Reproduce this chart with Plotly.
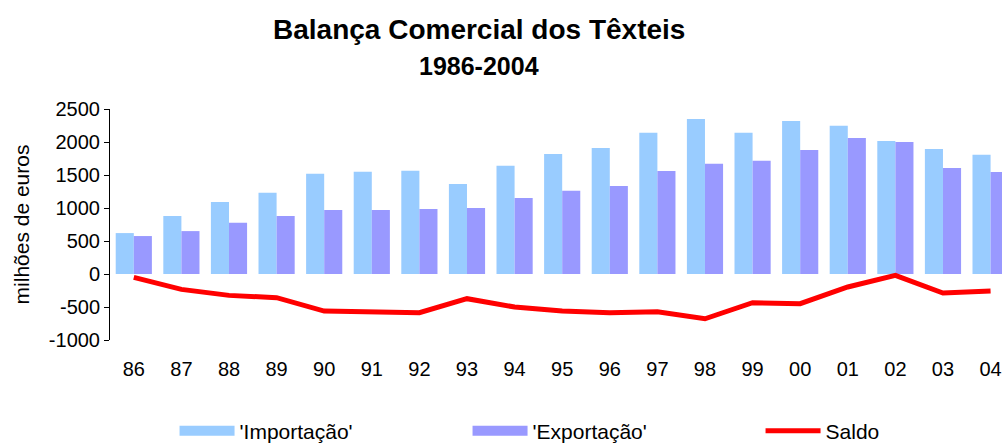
import plotly.graph_objects as go

anos = ["86", "87", "88", "89", "90", "91", "92", "93", "94", "95",
        "96", "97", "98", "99", "00", "01", "02", "03", "04"]
importacao = [620, 880, 1090, 1230, 1520, 1550, 1565, 1365, 1640, 1820,
              1910, 2140, 2350, 2140, 2320, 2245, 2015, 1895, 1805]
exportacao = [575, 650, 775, 880, 970, 970, 985, 1000, 1150, 1260,
              1335, 1560, 1670, 1715, 1880, 2060, 2000, 1605, 1545]
saldo = [-50, -233, -324, -359, -562, -577, -587, -374, -501, -562,
         -587, -572, -678, -435, -450, -197, -20, -289, -258]
y_ticks = [-1000, -500, 0, 500, 1000, 1500, 2000, 2500]

font = "Liberation Sans, Arial, sans-serif"
cor_imp = "#99CCFF"
cor_exp = "#9999FF"
x_range = [-0.5, 18.24]

fig = go.Figure()
fig.add_trace(go.Bar(x=anos, y=importacao, name="'Importação'", legendgroup="imp",
                     showlegend=False, marker=dict(color=cor_imp, line=dict(width=0))))
fig.add_trace(go.Bar(x=anos, y=exportacao, name="'Exportação'", legendgroup="exp",
                     showlegend=False, marker=dict(color=cor_exp, line=dict(width=0))))
fig.add_trace(go.Scatter(x=anos, y=saldo, name="Saldo", mode="lines",
                         line=dict(color="#FF0000", width=5), legendrank=3))

# entradas de legenda com retângulos largos (como no original)
fig.add_trace(go.Scatter(x=[None], y=[None], name="'Importação'", legendgroup="imp",
                         mode="lines", line=dict(color=cor_imp, width=13),
                         legendrank=1))
fig.add_trace(go.Scatter(x=[None], y=[None], name="'Exportação'", legendgroup="exp",
                         mode="lines", line=dict(color=cor_exp, width=13),
                         legendrank=2))

# eixo horizontal na posição y=0 (com marcas que cruzam a linha)
zero_pos = (0 - y_ticks[0]) / (y_ticks[-1] - y_ticks[0])

fig.update_layout(
    width=1002, height=443,
    margin=dict(l=110, r=0, t=109, b=103),
    paper_bgcolor="white", plot_bgcolor="white",
    font=dict(family=font, color="black", size=20),
    barmode="group", bargap=0.24, bargroupgap=0,
    xaxis=dict(type="category", categoryorder="array", categoryarray=anos,
               range=x_range, showline=False, ticks="", showgrid=False,
               zeroline=False, tickfont=dict(size=20), ticklabelstandoff=15,
               automargin=False),
    xaxis2=dict(overlaying="x", anchor="free", position=zero_pos, type="linear",
                range=x_range, tick0=-0.5, dtick=1, ticks="outside", ticklen=7,
                tickcolor="black", showline=True, linecolor="black", linewidth=1,
                showticklabels=False, showgrid=False, zeroline=False,
                automargin=False),
    xaxis3=dict(overlaying="x", anchor="free", position=zero_pos, type="linear",
                range=x_range, tick0=-0.5, dtick=1, ticks="inside", ticklen=4,
                tickcolor="black", showline=False,
                showticklabels=False, showgrid=False, zeroline=False,
                automargin=False),
    yaxis=dict(range=[y_ticks[0], y_ticks[-1]], tickvals=y_ticks,
               ticktext=[str(v) for v in y_ticks],
               showline=True, linecolor="black", linewidth=1,
               ticks="outside", ticklen=5, tickcolor="black",
               showgrid=False, zeroline=False, tickfont=dict(size=20),
               automargin=False,
               title=dict(text="milhões de euros", font=dict(size=21), standoff=13)),
    legend=dict(orientation="h", xref="container", x=0.1742, yref="container",
                y=0.027, yanchor="middle", xanchor="left",
                font=dict(size=21), itemwidth=55, entrywidth=223,
                bgcolor="rgba(0,0,0,0)"),
    annotations=[
        dict(text="<b>Balança Comercial dos Têxteis</b>", xref="paper", yref="paper",
             x=0.4137, y=1.3437, xanchor="center", yanchor="middle",
             showarrow=False, font=dict(size=28)),
        dict(text="<b>1986-2004</b>", xref="paper", yref="paper",
             x=0.4137, y=1.1855, xanchor="center", yanchor="middle",
             showarrow=False, font=dict(size=25)),
    ],
)

fig.write_html("out.html", config={"displayModeBar": False},
               post_script="document.body.style.margin='0';")
